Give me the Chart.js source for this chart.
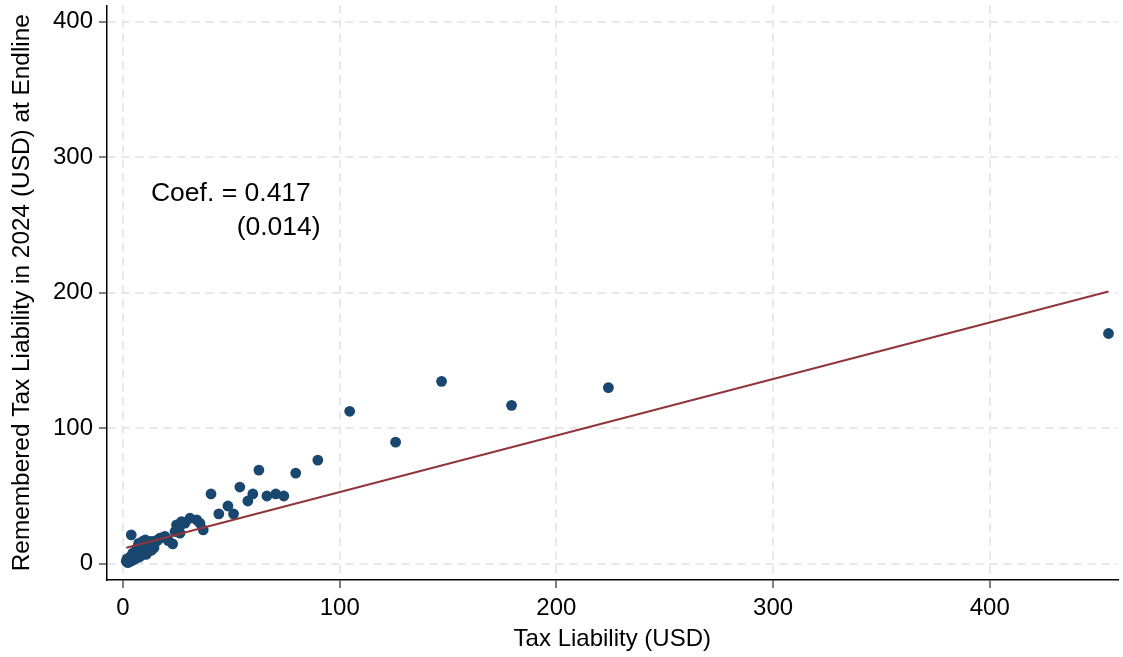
<!DOCTYPE html>
<html>
<head>
<meta charset="utf-8">
<title>Remembered vs. actual tax liability</title>
<script src="https://cdn.jsdelivr.net/npm/chart.js@4.4.1/dist/chart.umd.min.js"></script>
<style>
  html, body { margin: 0; padding: 0; background: #ffffff; }
  canvas { display: block; }
</style>
</head>
<body>
<canvas id="chart" width="1123" height="657"></canvas>
<script>
// Tax liability (USD) for each respondent
const taxLiability = [
  1.5, 1.8, 2.2, 2.5, 2.9, 3.1, 3.5, 3.8, 3.8, 4.2,
  4.5, 4.8, 5.2, 5.6, 5.9, 6.3, 6.6, 6.9, 7.2, 7.5,
  7.8, 8.1, 8.5, 8.8, 9.2, 9.5, 9.9, 10.3, 10.6, 11.0,
  11.4, 11.8, 12.3, 12.7, 13.2, 13.7, 14.3, 14.8, 15.8, 17.0,
  18.6, 19.4, 20.9, 22.9, 24.0, 24.7, 25.0, 26.3, 26.3, 27.0,
  28.6, 30.9, 34.0, 35.5, 37.0, 40.6, 44.2, 48.4, 51.0, 53.9,
  57.6, 59.9, 62.7, 66.4, 70.5, 74.2, 79.7, 89.9, 104.6, 125.8,
  147.0, 179.3, 224.0, 454.8
];

// Tax liability for 2024 as remembered at endline (USD)
const rememberedLiability = [
  1.8, 3.5, 0.8, 2.6, 4.4, 1.6, 3.2, 21.3, 5.6, 2.4,
  7.8, 4.1, 6.3, 3.5, 9.6, 5.2, 11.9, 7.4, 15.0, 4.9,
  9.3, 13.2, 6.4, 11.0, 16.6, 8.2, 12.8, 17.5, 6.9, 10.4,
  14.7, 9.0, 12.1, 16.5, 10.0, 14.2, 11.8, 16.8, 17.1, 18.9,
  19.6, 20.1, 17.1, 14.7, 23.8, 28.7, 25.0, 22.6, 27.9, 31.1,
  29.9, 33.6, 32.4, 29.9, 25.0, 51.5, 36.8, 42.6, 36.8, 56.6,
  46.3, 51.5, 69.1, 50.0, 51.5, 50.0, 66.9, 76.5, 112.5, 89.7,
  134.6, 116.9, 130.0, 169.9
];

// Axis ticks
const xTickValues = [0, 100, 200, 300, 400];
const yTickValues = [0, 100, 200, 300, 400];

// Linear fit reported on the chart
const fitSlope = 0.417;
const fitSlopeSE = 0.014;
const fitIntercept = 11.2;

const FONT = '"Liberation Sans", Arial, Helvetica, sans-serif';
const NAVY = '#1a476f';
const MAROON = '#90353b';

const scatterPoints = taxLiability.map((x, i) => ({ x: x, y: rememberedLiability[i] }));
const xLo = Math.min(...taxLiability);
const xHi = Math.max(...taxLiability);
const fitPoints = [
  { x: xLo, y: fitIntercept + fitSlope * xLo },
  { x: xHi, y: fitIntercept + fitSlope * xHi }
];

// Writes the slope and its standard error inside the plot
const coefLabel = {
  id: 'coefLabel',
  afterDatasetsDraw(chart) {
    const { ctx, scales: { x, y } } = chart;
    ctx.save();
    ctx.font = '26.5px ' + FONT;
    ctx.fillStyle = '#000000';
    ctx.textBaseline = 'alphabetic';
    ctx.textAlign = 'left';
    ctx.fillText('Coef. = ' + fitSlope.toFixed(3), x.getPixelForValue(12.9), y.getPixelForValue(267.6));
    ctx.textAlign = 'right';
    ctx.fillText('(' + fitSlopeSE.toFixed(3) + ')', x.getPixelForValue(91.2), y.getPixelForValue(242.6));
    ctx.restore();
  }
};

function axisOptions(ticks, titleText, lo, hi, titleSize) {
  return {
    type: 'linear',
    min: lo,
    max: hi,
    afterBuildTicks: (scale) => { scale.ticks = ticks.map(v => ({ value: v })); },
    grid: {
      color: '#e8e8e8',
      lineWidth: 2,
      drawOnChartArea: true,
      drawTicks: true,
      tickColor: '#000000',
      tickWidth: 1,
      tickLength: 8
    },
    border: { display: true, color: '#000000', width: 1.5, dash: [8, 6] },
    ticks: {
      color: '#000000',
      font: { family: FONT, size: 24 },
      padding: 6,
      maxRotation: 0,
      autoSkip: false
    },
    title: {
      display: true,
      text: titleText,
      color: '#000000',
      font: { family: FONT, size: titleSize }
    }
  };
}

const xOpts = axisOptions(xTickValues, 'Tax Liability (USD)', -7.4, 459, 24);
xOpts.afterFit = (scale) => {
  scale.height = 77;
  scale.paddingLeft = 0;
  scale.paddingRight = 0;
};
xOpts.title.padding = { top: 0, bottom: 3 };

const yOpts = axisOptions(yTickValues, 'Remembered Tax Liability in 2024 (USD) at Endline', -12, 412, 24.4);
yOpts.afterFit = (scale) => {
  scale.width = 107;
  scale.paddingTop = 0;
  scale.paddingBottom = 0;
};
yOpts.title.padding = { top: 8, bottom: 0 };

new Chart(document.getElementById('chart'), {
  type: 'scatter',
  data: {
    datasets: [
      {
        type: 'line',
        label: 'Linear fit',
        data: fitPoints,
        borderColor: MAROON,
        borderWidth: 2,
        pointRadius: 0,
        fill: false,
        tension: 0,
        order: 0
      },
      {
        label: 'Respondents',
        data: scatterPoints,
        backgroundColor: NAVY,
        borderWidth: 0,
        pointRadius: 5.4,
        pointHoverRadius: 5.4,
        order: 1
      }
    ]
  },
  options: {
    responsive: false,
    animation: false,
    devicePixelRatio: 1,
    layout: { padding: { top: 4, right: 3, left: 0, bottom: 0 } },
    plugins: {
      legend: { display: false },
      tooltip: { enabled: false }
    },
    scales: { x: xOpts, y: yOpts }
  },
  plugins: [coefLabel]
});
</script>
</body>
</html>
